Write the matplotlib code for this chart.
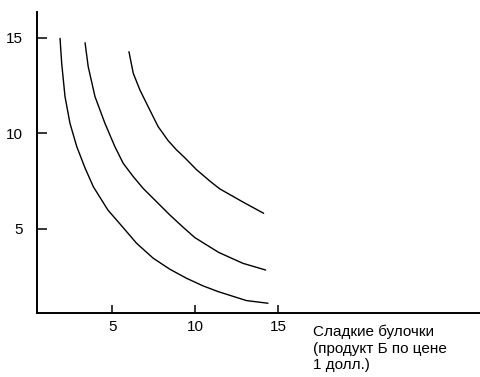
import matplotlib
matplotlib.use("Agg")
import matplotlib.pyplot as plt

plt.rcParams['font.family'] = ['Liberation Sans', 'DejaVu Sans']

# indifference curves (x: sweet buns, y: other good)
curve1_x = [1.85, 1.95, 2.15, 2.45, 2.86, 3.36, 3.86, 4.74, 5.66, 6.47, 7.47,
            8.48, 9.48, 10.48, 11.39, 13.10, 14.40]
curve1_y = [14.97, 13.66, 11.92, 10.52, 9.30, 8.18, 7.20, 5.98, 5.06, 4.24, 3.46,
            2.88, 2.41, 2.01, 1.71, 1.24, 1.10]

curve2_x = [3.36, 3.55, 3.96, 4.56, 5.16, 5.66, 6.27, 6.87, 7.67, 8.48, 9.28,
            9.98, 11.43, 12.89, 14.26]
curve2_y = [14.74, 13.49, 11.92, 10.52, 9.30, 8.43, 7.73, 7.11, 6.42, 5.72, 5.08,
            4.54, 3.76, 3.19, 2.84]

curve3_x = [6.01, 6.27, 6.67, 7.17, 7.77, 8.37, 8.88, 9.38, 10.08, 10.89, 11.49,
            12.89, 14.14]
curve3_y = [14.27, 13.14, 12.27, 11.39, 10.35, 9.62, 9.13, 8.72, 8.10, 7.50, 7.09,
            6.40, 5.81]

ticks = [5, 10, 15]
x_label = "Сладкие булочки\n(продукт Б по цене\n1 долл.)"

fig = plt.figure(figsize=(4.8, 3.77), dpi=100)
ax = fig.add_axes([0.0771, 0.1698, 0.9229, 0.7984])

for cx, cy in [(curve1_x, curve1_y), (curve2_x, curve2_y), (curve3_x, curve3_y)]:
    ax.plot(cx, cy, color='black', lw=1.0, solid_capstyle='round',
            solid_joinstyle='round')

ax.set_xlim(0.46, 27.2)
ax.set_ylim(0.59, 16.35)
ax.set_xticks(ticks)
ax.set_yticks(ticks)

for side in ['top', 'right']:
    ax.spines[side].set_visible(False)
for side in ['left', 'bottom']:
    ax.spines[side].set_linewidth(1.4)

ax.tick_params(axis='y', direction='in', length=7, width=1.1, pad=10, labelsize=11)
ax.tick_params(axis='x', direction='in', length=6, width=1.1, pad=5, labelsize=11)

fig.text(313 / 480, 1 - 325 / 377, x_label, ha='left', va='top',
         fontsize=11, linespacing=1.2)

fig.savefig("out.png", dpi=100)
